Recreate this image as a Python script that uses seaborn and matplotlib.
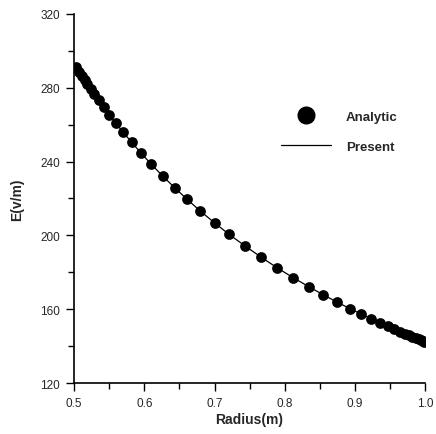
import matplotlib
matplotlib.use("Agg")
import matplotlib.pyplot as plt
from matplotlib.lines import Line2D
from matplotlib.ticker import MultipleLocator
import seaborn as sns
import pandas as pd

radius = [0.503, 0.507, 0.511, 0.515, 0.519, 0.524, 0.529, 0.535, 0.542, 0.550,
          0.559, 0.570, 0.582, 0.595, 0.610, 0.626, 0.643, 0.661, 0.680, 0.700,
          0.721, 0.743, 0.766, 0.789, 0.812, 0.834, 0.855, 0.875, 0.893, 0.909,
          0.923, 0.936, 0.947, 0.956, 0.964, 0.971, 0.977, 0.982, 0.987, 0.991,
          0.994, 0.997, 0.999]
e_analytic = [291.0, 288.6, 286.3, 284.0, 281.8, 279.0, 276.3, 273.1, 269.5, 265.4,
              261.0, 255.8, 250.4, 244.7, 238.5, 232.2, 225.9, 219.5, 213.1, 206.8,
              200.5, 194.4, 188.3, 182.5, 177.1, 172.3, 167.8, 163.8, 160.3, 157.4,
              154.9, 152.6, 150.7, 149.2, 147.9, 146.8, 145.8, 145.1, 144.3, 143.7,
              143.2, 142.8, 142.5]
e_present = list(e_analytic)

df = pd.DataFrame({"r": radius, "analytic": e_analytic, "present": e_present})

sns.set_style("ticks")
plt.rcParams['font.family'] = ['Liberation Sans', 'DejaVu Sans']

fig = plt.figure(figsize=(4.36, 4.35), dpi=100)
ax = fig.add_axes([0.170, 0.117, 0.805, 0.849])

sns.lineplot(data=df, x="r", y="present", ax=ax, color="black", linewidth=0.9)
sns.scatterplot(data=df, x="r", y="analytic", ax=ax, color="black", s=60,
                edgecolor="black", linewidth=0, zorder=3)

ax.set_xlim(0.5, 1.0)
ax.set_ylim(120, 320)
ax.xaxis.set_major_locator(MultipleLocator(0.1))
ax.xaxis.set_minor_locator(MultipleLocator(0.05))
ax.yaxis.set_major_locator(MultipleLocator(40))
ax.yaxis.set_minor_locator(MultipleLocator(20))
ax.set_xticklabels([f"{v:.1f}" for v in ax.get_xticks()])
ax.tick_params(axis="both", which="major", length=6, width=1, labelsize=8.5,
               color="black", pad=4)
ax.tick_params(axis="both", which="minor", length=4, width=1, color="black")
for s in ["top", "right"]:
    ax.spines[s].set_visible(False)
for s in ["left", "bottom"]:
    ax.spines[s].set_linewidth(1.2)
    ax.spines[s].set_color("black")

ax.set_xlabel("Radius(m)", fontsize=10, fontweight="bold", labelpad=2)
ax.set_ylabel("E(v/m)", fontsize=10, fontweight="bold", labelpad=12)

handles = [
    Line2D([], [], linestyle="none", marker="o", markersize=12, color="black"),
    Line2D([], [], color="black", linewidth=0.9),
]
ax.legend(handles, ["Analytic", "Present"], loc="upper left",
          bbox_to_anchor=(0.556, 0.77), frameon=False, handlelength=3.8,
          handletextpad=1.1, labelspacing=1.35,
          prop={"size": 9.5, "weight": "bold"})

fig.savefig("out.png", dpi=100)
